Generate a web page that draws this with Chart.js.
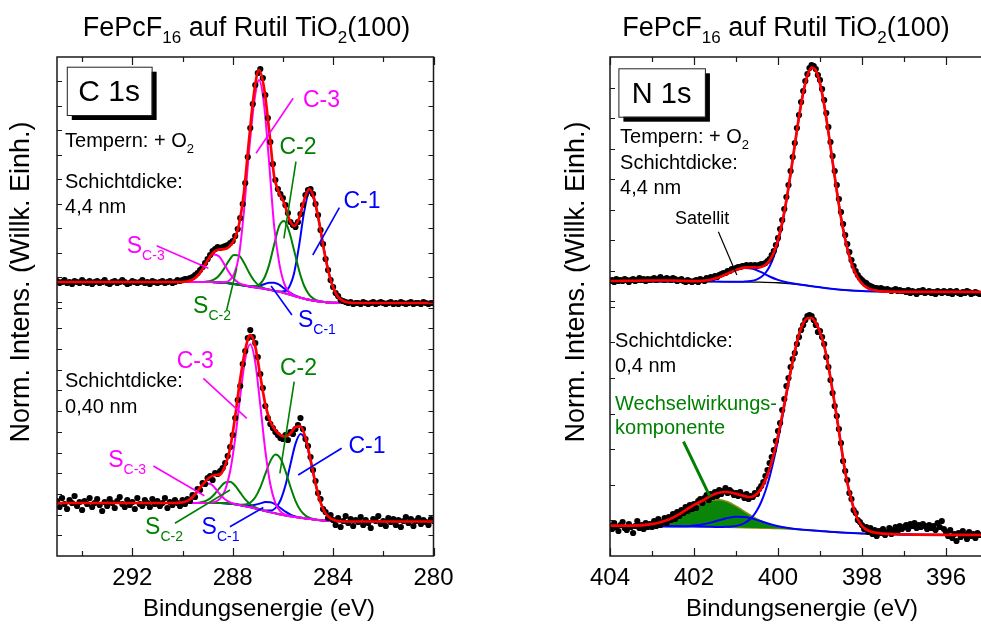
<!DOCTYPE html>
<html>
<head>
<meta charset="utf-8">
<script src="https://cdn.jsdelivr.net/npm/chart.js@4.4.1/dist/chart.umd.min.js"></script>
<style>
  html, body { margin: 0; padding: 0; background: #fff; overflow: hidden; width: 981px; height: 626px; }
  canvas { position: absolute; left: 0; top: 0; }
</style>
</head>
<body>
<canvas id="c1s" width="1000" height="626"></canvas>
<canvas id="n1s" width="1000" height="626"></canvas>
<script>
// ---------- C 1s: measured points (binding energy / eV, normalised intensity) ----------
const c1sEnergy = [
  295.0,294.9,294.8,294.7,294.6,294.5,294.4,294.3,294.2,294.1,
  294.0,293.9,293.8,293.7,293.6,293.5,293.4,293.3,293.2,293.1,
  293.0,292.9,292.8,292.7,292.6,292.5,292.4,292.3,292.2,292.1,
  292.0,291.9,291.8,291.7,291.6,291.5,291.4,291.3,291.2,291.1,
  291.0,290.9,290.8,290.7,290.6,290.5,290.4,290.3,290.2,290.1,
  290.0,289.9,289.8,289.7,289.6,289.5,289.4,289.3,289.2,289.1,
  289.0,288.9,288.8,288.7,288.6,288.5,288.4,288.3,288.2,288.1,
  288.0,287.9,287.8,287.7,287.6,287.5,287.4,287.3,287.2,287.1,
  287.0,286.9,286.8,286.7,286.6,286.5,286.4,286.3,286.2,286.1,
  286.0,285.9,285.8,285.7,285.6,285.5,285.4,285.3,285.2,285.1,
  285.0,284.9,284.8,284.7,284.6,284.5,284.4,284.3,284.2,284.1,
  284.0,283.9,283.8,283.7,283.6,283.5,283.4,283.3,283.2,283.1,
  283.0,282.9,282.8,282.7,282.6,282.5,282.4,282.3,282.2,282.1,
  282.0,281.9,281.8,281.7,281.6,281.5,281.4,281.3,281.2,281.1,
  281.0,280.9,280.8,280.7,280.6,280.5,280.4,280.3,280.2,280.1,
  280.0
];
// film thickness 4,4 nm (annealed in O2)
const c1sThick = [
  275,273,274,276,273,274,272,275,274,273,
  276,274,273,275,272,274,275,273,274,276,
  273,272,274,275,273,274,276,274,272,273,
  275,274,273,274,276,273,274,272,275,274,
  273,274,275,273,274,275,273,274,276,275,
  276,277,277,278,279,281,283,286,289,293,
  297,301,305,307,309,308,309,310,311,313,
  315,320,327,338,352,373,399,428,452,471,
  483,487,478,461,438,414,392,376,367,362,
  358,351,343,334,331,329,334,342,351,361,
  366,367,362,352,341,326,312,297,286,276,
  269,263,260,256,255,254,253,254,252,253,
  253,252,254,253,252,253,254,252,253,254,
  253,252,253,254,252,253,252,254,253,252,
  253,254,252,253,253,252,254,253,252,253,
  253
];
// film thickness 0,40 nm
const c1sThin = [
  55,49,58,52,47,56,53,60,50,54,
  46,55,52,58,49,53,57,51,45,54,
  50,57,53,48,55,59,52,49,56,51,
  54,47,58,52,50,56,53,49,57,52,
  55,50,53,58,48,54,51,56,53,50,
  56,52,57,55,61,59,67,66,73,72,
  78,80,76,83,82,85,88,93,100,109,
  121,138,156,170,192,205,218,226,219,213,
  199,182,168,150,138,132,128,124,121,118,
  117,121,116,124,122,127,131,138,127,117,
  110,99,86,75,63,57,47,44,38,41,
  36,31,38,29,35,40,33,37,30,36,
  34,39,31,36,33,28,37,35,40,32,
  35,30,38,34,37,31,36,29,35,39,
  33,37,30,35,38,32,36,34,31,37,
  35
];

// ---------- C 1s fit, 4,4 nm ----------
const c1sFitEThick = [295,290.55,290.35,290.15,289.95,289.75,289.55,289.35,289.15,288.95,288.75,288.55,288.35,288.15,287.95,287.75,287.55,287.35,287.15,286.95,286.75,286.55,286.35,286.15,285.95,285.75,285.55,285.35,285.15,284.95,284.75,284.55,284.35,284.15,283.95,283.75,283.55,283.35,283.15,282.95,280];
const c1sBgThick  = [274,274,274,274,274,274,274,274,274,274,273.8,273.6,273.2,272.7,272,271.3,270.5,269.6,268.8,268,267.2,266.3,265.3,264.3,263,261.5,260,258.6,257.3,256.2,255.3,254.5,253.9,253.5,253.2,253,253,253,253,253,253];
const c1sSC3Thick = [274,274,274,274,274.2,275,277.1,281.6,289,297.1,301.6,299.7,292.4,283.8,277,273,271,269.7,268.8,268,267.2,266.3,265.3,264.3,263,261.5,260,258.6,257.3,256.2,255.3,254.5,253.9,253.5,253.2,253,253,253,253,253,253];
const c1sSC2Thick = [274,274,274,274,274,274,274,274,274.1,274.7,276.3,280.3,287.1,295.4,301.1,300.4,293.2,283.5,275.5,270.5,267.9,266.5,265.3,264.3,263,261.5,260,258.6,257.3,256.2,255.3,254.5,253.9,253.5,253.2,253,253,253,253,253,253];
const c1sC3Thick  = [274,274,274,274,274,274,274,274,274,274,273.8,273.7,273.7,275.2,281.6,300.4,345,404,452.7,476,451.1,393.6,330,293.4,272.6,264,260.5,258.7,257.3,256.2,255.3,254.5,253.9,253.5,253.2,253,253,253,253,253,253];
const c1sSC1Thick = [274,274,274,274,274,274,274,274,274,274,273.8,273.6,273.2,272.7,272,271.3,270.5,269.9,269.7,270.3,271.8,273.3,273.3,271.3,267.6,263.8,260.9,258.9,257.3,256.2,255.3,254.5,253.9,253.5,253.2,253,253,253,253,253,253];
const c1sC2Thick  = [274,274,274,274,274,274,274,274,274,274,273.8,273.6,273.2,272.7,272,271.3,270.5,269.7,269.6,271.3,277.5,291.1,311.3,329.8,334.9,324.5,305.2,285.1,270,261.2,256.9,254.9,253.9,253.5,253.2,253,253,253,253,253,253];
const c1sC1Thick  = [274,274,274,274,274,274,274,274,274,274,273.8,273.6,273.2,272.7,272,271.3,270.5,269.6,268.8,268,267.2,266.3,265.3,264.6,264.8,269.1,283.3,311.2,344.6,362.9,355.4,332.7,304.7,281,265.6,257.6,254.5,253.4,253,253,253];
const c1sSumThick = [274,274,274,274,274.2,275,277.1,281.6,289.1,297.8,304.1,306.5,306.8,309,315.7,331.3,364,416,463,486,468,426,380,363,353,337,330,338,356,367,357,333,304,281,265.6,257.6,254.5,253.4,253,253,253];

// ---------- C 1s fit, 0,40 nm ----------
const c1sFitEThin = [295,290.9,290.7,290.5,290.3,290.1,289.9,289.7,289.5,289.3,289.1,288.9,288.7,288.5,288.3,288.1,287.9,287.7,287.5,287.3,287.1,286.9,286.7,286.5,286.3,286.1,285.9,285.7,285.5,285.3,285.1,284.9,284.7,284.5,284.3,284.1,283.9,283.7,283.5,283.3,283.1,280];
const c1sBgThin  = [53,53,53,53,53,53,53,53,53,53,53,53,53,53,52.8,52.4,51.7,50.8,49.8,48.8,47.5,46.2,45,43.8,42.7,41.6,40.6,39.7,38.9,38.2,37.5,36.9,36.3,35.8,35.4,35.1,34.9,34.7,34.5,34.5,34.5,34.5];
const c1sSC3Thin = [53,53,53,53,53,53.3,54.3,56.7,61.5,67.7,72.3,72.3,67.7,61.5,56.5,53.7,52,50.8,49.8,48.8,47.5,46.2,45,43.8,42.7,41.6,40.6,39.7,38.9,38.2,37.5,36.9,36.3,35.8,35.4,35.1,34.9,34.7,34.5,34.5,34.5,34.5];
const c1sSC2Thin = [53,53,53,53,53,53,53,53,53,53.6,54.8,57.6,62.5,68.7,73.5,74.2,70.2,63.3,56.6,51.8,48.5,46.5,45,43.8,42.7,41.6,40.6,39.7,38.9,38.2,37.5,36.9,36.3,35.8,35.4,35.1,34.9,34.7,34.5,34.5,34.5,34.5];
const c1sC3Thin  = [53,53,53,53,53,53,53,53,53,53,53,53.3,54.2,57.4,66,85,117.6,159.8,197.2,211.8,193.4,150.8,105.1,71.5,52.9,44.6,41.3,39.7,38.9,38.2,37.5,36.9,36.3,35.8,35.4,35.1,34.9,34.7,34.5,34.5,34.5,34.5];
const c1sSC1Thin = [53,53,53,53,53,53,53,53,53,53,53,53,53,53,52.8,52.4,51.7,51,50.4,50.5,51.2,52.6,54,53.8,51.7,48,44.3,41.4,39.5,38.4,37.5,36.9,36.3,35.8,35.4,35.1,34.9,34.7,34.5,34.5,34.5,34.5];
const c1sC2Thin  = [53,53,53,53,53,53,53,53,53,53,53,53,53,53,52.8,52.4,51.8,51.3,51.4,53.5,58.8,68.6,82.1,94.9,101.4,97.6,85.2,69.2,55.2,45.7,40.4,37.8,36.5,35.8,35.4,35.1,34.9,34.7,34.5,34.5,34.5,34.5];
const c1sC1Thin  = [53,53,53,53,53,53,53,53,53,53,53,53,53,53,52.8,52.4,51.7,50.8,49.8,48.8,47.5,46.2,45.4,45.4,47.9,55.5,70.4,91.5,112.1,122,115.4,95.6,72.3,53.6,42.6,37.5,35.5,34.7,34.5,34.5,34.5,34.5];
const c1sSumThin = [53,53,53,53,53,53.3,54.3,56.7,61.6,68.3,74.1,79,81,81.6,90.4,108.1,140,177,206.2,221.2,209.4,179.9,151.6,134.2,125.8,120.9,119.4,122.7,129,129.7,118.3,96.5,72.5,53.6,42.6,37.5,35.5,34.7,34.5,34.5,34.5,34.5];

// ---------- N 1s: measured points ----------
const n1sEnergy = [
  404.00,403.95,403.90,403.85,403.80,403.75,403.70,403.65,403.60,403.55,403.50,403.45,403.40,403.35,403.30,403.25,403.20,403.15,403.10,403.05,
  403.00,402.95,402.90,402.85,402.80,402.75,402.70,402.65,402.60,402.55,402.50,402.45,402.40,402.35,402.30,402.25,402.20,402.15,402.10,402.05,
  402.00,401.95,401.90,401.85,401.80,401.75,401.70,401.65,401.60,401.55,401.50,401.45,401.40,401.35,401.30,401.25,401.20,401.15,401.10,401.05,
  401.00,400.95,400.90,400.85,400.80,400.75,400.70,400.65,400.60,400.55,400.50,400.45,400.40,400.35,400.30,400.25,400.20,400.15,400.10,400.05,
  400.00,399.95,399.90,399.85,399.80,399.75,399.70,399.65,399.60,399.55,399.50,399.45,399.40,399.35,399.30,399.25,399.20,399.15,399.10,399.05,
  399.00,398.95,398.90,398.85,398.80,398.75,398.70,398.65,398.60,398.55,398.50,398.45,398.40,398.35,398.30,398.25,398.20,398.15,398.10,398.05,
  398.00,397.95,397.90,397.85,397.80,397.75,397.70,397.65,397.60,397.55,397.50,397.45,397.40,397.35,397.30,397.25,397.20,397.15,397.10,397.05,
  397.00,396.95,396.90,396.85,396.80,396.75,396.70,396.65,396.60,396.55,396.50,396.45,396.40,396.35,396.30,396.25,396.20,396.15,396.10,396.05,
  396.00,395.95,395.90,395.85,395.80,395.75,395.70,395.65,395.60,395.55,395.50,395.45,395.40,395.35,395.30,395.25,395.20
];
// film thickness 4,4 nm (annealed in O2)
const n1sThick = [
  275,276,274,277,275,276,275,277,276,274,276,277,275,276,278,276,277,275,277,276,
  277,278,276,277,279,277,276,278,277,276,278,277,275,276,277,275,274,276,275,274,
  275,276,274,277,276,275,278,277,279,278,280,279,281,282,283,283,285,285,287,287,
  288,289,289,290,290,291,290,291,290,291,290,291,292,292,293,295,297,301,305,311,
  318,327,336,347,359,371,385,399,413,428,441,454,465,475,482,488,491,490,487,481,
  476,467,456,443,429,414,400,385,371,357,344,332,321,312,304,296,290,285,281,278,
  276,274,273,271,270,269,268,268,267,268,267,266,267,266,265,266,267,265,266,265,
  265,264,266,263,265,264,262,265,264,266,263,264,265,263,264,262,265,264,263,265,
  264,263,265,262,264,265,263,262,264,263,265,264,262,263,264,263,262
];
// film thickness 0,4 nm
const n1sThin = [
  30,27,33,29,25,31,34,28,26,32,29,23,30,35,28,31,27,33,29,32,
  29,35,30,37,31,34,38,33,39,36,42,37,44,40,46,43,49,45,51,47,
  52,48,55,57,53,58,61,56,62,59,64,60,66,62,65,68,63,66,64,61,
  63,60,64,61,58,62,57,60,59,63,62,67,70,74,80,86,93,99,106,115,
  125,133,146,157,170,178,189,197,203,212,219,226,231,236,240,241,240,236,231,224,
  225,219,212,199,189,176,163,150,140,127,113,95,85,76,63,57,46,43,36,34,
  31,27,29,24,28,22,26,20,25,23,27,21,24,28,22,26,29,25,30,27,
  29,31,27,32,30,33,28,31,29,32,30,27,31,28,30,26,33,29,35,27,
  24,20,26,18,22,15,23,19,25,21,17,24,20,22,18,23,21
];

// ---------- N 1s fit, 4,4 nm ----------
const n1sBgEThick = [404,401.5,401,400.5,400,399.5,399,398.5,398,397.5,395];
const n1sBgThick  = [274.5,274.4,274.2,273.9,273.2,271.5,268.7,266.3,264.9,264.4,264];
const n1sMainEThick = [404,402,401.5,401.0,400.9,400.8,400.7,400.6,400.5,400.4,400.3,400.2,400.1,400.0,399.9,399.8,399.7,399.6,399.5,399.4,399.3,399.2,399.1,399.0,398.9,398.8,398.7,398.6,398.5,398.4,398.3,398.2,398.1,398.0,397.9,397.8,397.7,397.6,397.5,397.4,396,395];
const n1sMainThick  = [274.5,274.5,274.4,274.2,274.2,274.4,274.7,275.4,276.7,279,283,289.5,299.3,313.2,331.7,354.9,381.7,410.7,438.9,463.1,480.3,488.4,485.6,472.6,451.1,423.9,394.2,365,338.6,316.7,299.5,286.9,278.1,272.4,268.9,266.8,265.7,265,264.6,264.4,264.1,264];
const n1sSatEThick = [404,402,401.8,401.6,401.4,401.2,401.0,400.8,400.6,400.4,400.2,400.0,399.8,399.6,399.4,399.2,399.0,398.5,398.0,397.5,396.5,395];
const n1sSatThick  = [274.5,274.7,275.2,276.3,278.7,282.3,286,288,287.2,283.8,279.5,276.1,273.7,272.3,271,269.8,268.7,266.3,264.9,264.4,264.1,264];
const n1sSumEThick = [404,403,402.5,402,401.8,401.6,401.4,401.2,401.0,400.9,400.8,400.7,400.6,400.5,400.4,400.3,400.2,400.1,400.0,399.9,399.8,399.7,399.6,399.5,399.4,399.3,399.2,399.1,399.0,398.9,398.8,398.7,398.6,398.5,398.4,398.3,398.2,398.1,398.0,397.9,397.8,397.7,397.6,397.5,397.4,396,395];
const n1sSumThick  = [275,275.5,275.5,274.8,275.2,276.3,278.7,282.3,286,287.4,288.3,288.6,288.6,288.5,289,291,295.5,303.6,316.1,333.6,356,382.4,411.1,439.1,463.2,480.4,488.5,485.6,472.6,451.1,423.9,394.2,365,338.6,316.7,299.5,286.9,278.1,272.4,268.9,266.8,265.7,265,264.6,264.4,264.1,264];

// ---------- N 1s fit, 0,4 nm ----------
const n1sBgEThin = [404,403.5,403.2,403.0,402.8,402.6,402.4,402.2,402.0,401.8,401.6,401.4,401.2,401.0,400.8,400.6,400.4,400.2,400.0,399.8,399.6,399.4,399.0,398.5,398.0,397.0,395.0];
const n1sBgThin  = [30,29.9,29.8,29.75,29.7,29.65,29.6,29.55,29.5,29.3,29.1,28.9,28.7,28.5,28.3,28.1,27.9,27.7,27.5,27.1,26.7,26.2,25,23.5,22.5,21.5,21];
const n1sWwThin  = [30,29.9,30.3,31.8,33.8,36.5,40.5,45.5,50,53.5,55.9,56.3,54.2,49.9,44.6,39.4,35,31.7,29.6,28.1,27.1,26.3,25,23.5,22.5,21.5,21];
const n1sSatEThin = [404,402.5,402.2,402.0,401.8,401.6,401.4,401.2,401.0,400.8,400.6,400.4,400.2,400.0,399.8,399.6,399.4,399.0,398.5,398.0,397.0,395.0];
const n1sSatThin  = [30,29.7,29.8,30.6,31.6,33.4,35.7,38,39.3,39.1,37.4,34.7,32,29.8,28.2,27.1,26.3,25,23.5,22.5,21.5,21];
const n1sMainEThin = [404,402,401.5,401.4,401.3,401.2,401.1,401.0,400.9,400.8,400.7,400.6,400.5,400.4,400.3,400.2,400.1,400.0,399.9,399.8,399.7,399.6,399.5,399.4,399.3,399.2,399.1,399.0,398.9,398.8,398.7,398.6,398.5,398.4,398.3,398.2,398.1,398.0,397.9,397.8,397.7,397.6,397.5,397,395];
const n1sMainThin  = [30,29.5,29.1,29,29.1,29.2,29.5,30.1,31.1,32.9,35.6,39.7,45.7,54,65,79,96.1,115.9,137.8,160.8,183.4,204,220.9,232.5,237.6,238,233,224,210,190,165,139,111,84,64,48,36.5,30,26.5,24.6,23.5,22.8,22.4,21.5,21];
const n1sSumEThin = [404,403.5,403.0,402.8,402.6,402.4,402.2,402.0,401.8,401.6,401.5,401.4,401.3,401.2,401.1,401.0,400.9,400.8,400.7,400.6,400.5,400.4,400.3,400.2,400.1,400.0,399.9,399.8,399.7,399.6,399.5,399.4,399.3,399.2,399.1,399.0,398.9,398.8,398.7,398.6,398.5,398.4,398.3,398.2,398.1,398.0,397.9,397.8,397.7,397.6,397.5,397,395];
const n1sSumThin  = [30.3,30.3,31.8,33.8,36.5,40.6,45.9,51.1,55.2,60.2,62,63.2,64,64,63.3,62.3,61,60,59,59.6,62.3,67.5,75.9,87.3,102.2,120.3,140.8,162.9,184.8,204.8,221.3,232.7,237.7,238,233,224,210,190,165,139,111,84,64,48,36.5,30,26.5,24.6,23.5,22.8,22.4,21.5,21];

// ---------- drawing helpers ----------
const FONT = "'Liberation Sans', Arial, Helvetica, sans-serif";
const MAGENTA = '#ff00ff', GREEN = '#008000', BLUE = '#0000ff', RED = '#ff0000';
const pts = (xs, ys) => xs.map((x, i) => ({ x, y: ys[i] }));

function curve(xs, ys, color, width, order, extra) {
  return Object.assign({
    data: pts(xs, ys), borderColor: color, borderWidth: width, pointRadius: 0,
    fill: false, cubicInterpolationMode: 'monotone', order
  }, extra || {});
}
function dots(xs, ys, order) {
  return {
    data: pts(xs, ys), showLine: false, pointRadius: 3.1, pointHoverRadius: 0,
    pointBackgroundColor: '#000', pointBorderWidth: 0, borderColor: '#000', order
  };
}

// draws a run of text pieces: [text, size, dy]
function rich(ctx, x, y, parts, color, align) {
  ctx.fillStyle = color;
  ctx.textAlign = 'left';
  ctx.textBaseline = 'alphabetic';
  let total = 0;
  for (const p of parts) { ctx.font = p[1] + 'px ' + FONT; total += ctx.measureText(p[0]).width; }
  let cx = align === 'center' ? x - total / 2 : x;
  for (const p of parts) {
    ctx.font = p[1] + 'px ' + FONT;
    ctx.fillText(p[0], cx, y + (p[2] || 0));
    cx += ctx.measureText(p[0]).width;
  }
}

// frame with inward tick marks
const framePlugin = {
  id: 'frame',
  afterDatasetsDraw(chart, _args, o) {
    const { ctx, chartArea: a, scales: { x } } = chart;
    ctx.save();
    ctx.strokeStyle = '#1a1a1a';
    ctx.lineWidth = 1.5;
    ctx.strokeRect(a.left, a.top, a.right - a.left, a.bottom - a.top);
    ctx.lineWidth = 1.2;
    ctx.beginPath();
    for (const t of x.ticks) {
      const px = Math.round(x.getPixelForValue(t.value)) + 0.5;
      const len = t.label ? 8 : 5;
      ctx.moveTo(px, a.bottom); ctx.lineTo(px, a.bottom - len);
      ctx.moveTo(px, a.top); ctx.lineTo(px, a.top + len);
    }
    for (const b of o.yBands) {
      for (let k = 1; k <= b.count; k++) {
        const py = Math.round(b.fromTop ? a.top + k * b.step : a.bottom - k * b.step) + 0.5;
        ctx.moveTo(a.left, py); ctx.lineTo(a.left + 5, py);
        ctx.moveTo(a.right, py); ctx.lineTo(a.right - 5, py);
      }
    }
    ctx.stroke();
    ctx.restore();
  }
};

// labels, leader lines, boxes and titles
const notesPlugin = {
  id: 'notes',
  afterDraw(chart, _args, o) {
    const { ctx, scales: { x, y } } = chart;
    const X = v => x.getPixelForValue(v), Y = v => y.getPixelForValue(v);
    ctx.save();
    for (const n of o.items) {
      if (n.kind === 'line') {
        ctx.strokeStyle = n.color; ctx.lineWidth = n.width || 1.6;
        ctx.beginPath(); ctx.moveTo(X(n.x1), Y(n.y1)); ctx.lineTo(X(n.x2), Y(n.y2)); ctx.stroke();
      } else if (n.kind === 'box') {
        const x1 = X(n.x1), x2 = X(n.x2), y1 = Y(n.y1), y2 = Y(n.y2);
        ctx.fillStyle = '#000'; ctx.fillRect(x1 + 5, y1 + 5, x2 - x1, y2 - y1);
        ctx.fillStyle = '#fff'; ctx.fillRect(x1, y1, x2 - x1, y2 - y1);
        ctx.strokeStyle = '#222'; ctx.lineWidth = 1; ctx.strokeRect(x1 + 0.5, y1 + 0.5, x2 - x1, y2 - y1);
        ctx.fillStyle = '#000'; ctx.font = n.size + 'px ' + FONT;
        ctx.textAlign = 'center'; ctx.textBaseline = 'middle';
        ctx.fillText(n.text, (x1 + x2) / 2, (y1 + y2) / 2 + 2);
      } else if (n.kind === 'text') {
        rich(ctx, X(n.x), Y(n.y), n.parts, n.color || '#000', 'left');
      }
    }
    for (const p of o.page) {
      if (p.vertical) {
        ctx.save();
        ctx.translate(p.x, p.y); ctx.rotate(-Math.PI / 2);
        ctx.fillStyle = '#000'; ctx.font = p.size + 'px ' + FONT;
        ctx.textAlign = 'center'; ctx.textBaseline = 'middle';
        ctx.fillText(p.text, 0, 0);
        ctx.restore();
      } else {
        rich(ctx, p.x, p.y, p.parts, '#000', 'center');
      }
    }
    ctx.restore();
  }
};

function baseOptions(xMin, xMax, step, labelEvery, padL, padR, yBands, items, page) {
  return {
    responsive: false, animation: false, devicePixelRatio: 1,
    layout: { padding: { left: padL, right: padR, top: 57, bottom: 0 } },
    plugins: { legend: { display: false }, tooltip: { enabled: false },
               frame: { yBands }, notes: { items, page } },
    scales: {
      x: {
        type: 'linear', min: xMin, max: xMax, reverse: true,
        grid: { display: false, drawTicks: false }, border: { display: false },
        ticks: {
          stepSize: step, includeBounds: false, autoSkip: false, maxRotation: 0,
          padding: 8, color: '#000', font: { family: FONT, size: 24 },
          callback: v => (Math.round(v) % labelEvery === 0 ? String(Math.round(v)) : '')
        },
        afterFit: s => { s.height = 70; s.paddingLeft = 0; s.paddingRight = 0; }
      },
      y: { type: 'linear', min: 0, max: 499, display: false }
    }
  };
}

const S = (main, sub) => [[main, 23], [sub, 14, 7]];

// ---------- C 1s panel ----------
const c1sItems = [
  { kind: 'box', x1: 294.61, x2: 291.23, y1: 489.3, y2: 441, text: 'C 1s', size: 30 },
  { kind: 'text', x: 294.68, y: 409, parts: [['Tempern: + O', 20], ['2', 13, 6]] },
  { kind: 'text', x: 294.68, y: 367.7, parts: [['Schichtdicke:', 20]] },
  { kind: 'text', x: 294.68, y: 342.7, parts: [['4,4 nm', 20]] },
  { kind: 'text', x: 294.68, y: 168.7, parts: [['Schichtdicke:', 20]] },
  { kind: 'text', x: 294.68, y: 142.7, parts: [['0,40 nm', 20]] },
  // 4,4 nm labels
  { kind: 'text', x: 285.2, y: 449.3, color: MAGENTA, parts: [['C-3', 23]] },
  { kind: 'line', x1: 285.59, y1: 457.7, x2: 287.07, y2: 402.7, color: MAGENTA },
  { kind: 'text', x: 286.14, y: 401.7, color: GREEN, parts: [['C-2', 23]] },
  { kind: 'line', x1: 285.48, y1: 394.3, x2: 285.96, y2: 317.7, color: GREEN },
  { kind: 'text', x: 283.59, y: 347.7, color: BLUE, parts: [['C-1', 23]] },
  { kind: 'line', x1: 283.75, y1: 348.3, x2: 284.81, y2: 301, color: BLUE },
  { kind: 'text', x: 292.22, y: 302.7, color: MAGENTA, parts: S('S', 'C-3') },
  { kind: 'line', x1: 291.03, y1: 310.3, x2: 288.97, y2: 287.7, color: MAGENTA },
  { kind: 'text', x: 289.58, y: 243, color: GREEN, parts: S('S', 'C-2') },
  { kind: 'line', x1: 288.24, y1: 246, x2: 287.84, y2: 287.7, color: GREEN },
  { kind: 'text', x: 285.4, y: 229, color: BLUE, parts: S('S', 'C-1') },
  { kind: 'line', x1: 286.47, y1: 270, x2: 285.64, y2: 241, color: BLUE },
  // 0,40 nm labels
  { kind: 'text', x: 290.23, y: 187.7, color: MAGENTA, parts: [['C-3', 23]] },
  { kind: 'line', x1: 289.17, y1: 177.7, x2: 287.44, y2: 137.7, color: MAGENTA },
  { kind: 'text', x: 286.12, y: 181, color: GREEN, parts: [['C-2', 23]] },
  { kind: 'line', x1: 285.55, y1: 174.3, x2: 286.12, y2: 82.7, color: GREEN },
  { kind: 'text', x: 283.39, y: 102.7, color: BLUE, parts: [['C-1', 23]] },
  { kind: 'line', x1: 283.66, y1: 107.7, x2: 285.39, y2: 81, color: BLUE },
  { kind: 'text', x: 292.96, y: 89, color: MAGENTA, parts: S('S', 'C-3') },
  { kind: 'line', x1: 291.16, y1: 90, x2: 289.13, y2: 60.3, color: MAGENTA },
  { kind: 'text', x: 291.49, y: 22, color: GREEN, parts: S('S', 'C-2') },
  { kind: 'line', x1: 290.3, y1: 32.7, x2: 288.11, y2: 66, color: GREEN },
  { kind: 'text', x: 289.24, y: 22, color: BLUE, parts: S('S', 'C-1') },
  { kind: 'line', x1: 288.11, y1: 29.3, x2: 286.78, y2: 48.5, color: BLUE }
];
const titleParts = [['FePcF', 27], ['16', 17, 7], [' auf Rutil TiO', 27], ['2', 17, 7], ['(100)', 27]];
const c1sPage = [
  { x: 246.5, y: 36, parts: titleParts },
  { x: 259, y: 616, parts: [['Bindungsenergie (eV)', 24]] },
  { vertical: true, x: 22, y: 282, size: 27, text: 'Norm. Intens. (Willk. Einh.)' }
];

new Chart(document.getElementById('c1s'), {
  type: 'line',
  data: { datasets: [
    curve(c1sFitEThick, c1sSumThick, RED, 2.7, 0),
    dots(c1sEnergy, c1sThick, 1),
    curve(c1sFitEThick, c1sC3Thick, MAGENTA, 2, 2),
    curve(c1sFitEThick, c1sSC3Thick, MAGENTA, 2, 3),
    curve(c1sFitEThick, c1sC2Thick, GREEN, 2, 4),
    curve(c1sFitEThick, c1sSC2Thick, GREEN, 2, 5),
    curve(c1sFitEThick, c1sC1Thick, BLUE, 2, 6),
    curve(c1sFitEThick, c1sSC1Thick, BLUE, 2, 7),
    curve(c1sFitEThick, c1sBgThick, '#2b2b8c', 1.6, 8),
    curve(c1sFitEThin, c1sSumThin, RED, 2.7, 0),
    dots(c1sEnergy, c1sThin, 1),
    curve(c1sFitEThin, c1sC3Thin, MAGENTA, 2, 2),
    curve(c1sFitEThin, c1sSC3Thin, MAGENTA, 2, 3),
    curve(c1sFitEThin, c1sC2Thin, GREEN, 2, 4),
    curve(c1sFitEThin, c1sSC2Thin, GREEN, 2, 5),
    curve(c1sFitEThin, c1sC1Thin, BLUE, 2, 6),
    curve(c1sFitEThin, c1sSC1Thin, BLUE, 2, 7),
    curve(c1sFitEThin, c1sBgThin, '#2b2b8c', 1.6, 8)
  ] },
  options: baseOptions(280, 295, 2, 4, 57, 566.5,
    [{ fromTop: true, step: 24.45, count: 10 }, { fromTop: false, step: 20.7, count: 12 }],
    c1sItems, c1sPage),
  plugins: [framePlugin, notesPlugin]
});

// ---------- N 1s panel ----------
const n1sItems = [
  { kind: 'box', x1: 403.8, x2: 401.74, y1: 487.7, y2: 439.3, text: 'N 1s', size: 29 },
  { kind: 'text', x: 403.76, y: 412.7, parts: [['Tempern: + O', 20], ['2', 13, 6]] },
  { kind: 'text', x: 403.76, y: 387, parts: [['Schichtdicke:', 20]] },
  { kind: 'text', x: 403.76, y: 361.7, parts: [['4,4 nm', 20]] },
  { kind: 'text', x: 402.45, y: 331.7, parts: [['Satellit', 18]] },
  { kind: 'line', x1: 401.42, y1: 324.3, x2: 400.98, y2: 281, color: '#000', width: 1.2 },
  { kind: 'text', x: 403.88, y: 208.7, parts: [['Schichtdicke:', 20]] },
  { kind: 'text', x: 403.88, y: 184.3, parts: [['0,4 nm', 20]] },
  { kind: 'text', x: 403.88, y: 146, color: GREEN, parts: [['Wechselwirkungs-', 20]] },
  { kind: 'text', x: 403.88, y: 122, color: GREEN, parts: [['komponente', 20]] },
  { kind: 'line', x1: 402.25, y1: 114.3, x2: 401.62, y2: 59.3, color: GREEN, width: 3 }
];
const n1sPage = [
  { x: 786, y: 36, parts: titleParts },
  { x: 802, y: 616, parts: [['Bindungsenergie (eV)', 24]] },
  { vertical: true, x: 577, y: 282, size: 27, text: 'Norm. Intens. (Willk. Einh.)' }
];

new Chart(document.getElementById('n1s'), {
  type: 'line',
  data: { datasets: [
    curve(n1sSumEThick, n1sSumThick, RED, 2.7, 0),
    dots(n1sEnergy, n1sThick, 1),
    curve(n1sMainEThick, n1sMainThick, BLUE, 2, 2),
    curve(n1sSatEThick, n1sSatThick, BLUE, 2, 3),
    curve(n1sBgEThick, n1sBgThick, '#000', 1.4, 4),
    curve(n1sSumEThin, n1sSumThin, RED, 2.7, 0),
    dots(n1sEnergy, n1sThin, 1),
    curve(n1sMainEThin, n1sMainThin, BLUE, 2, 2),
    curve(n1sSatEThin, n1sSatThin, BLUE, 2, 3),
    curve(n1sBgEThin, n1sWwThin, '#8c8c10', 1.6, 4, { fill: 10, backgroundColor: '#0a850a' }),
    curve(n1sBgEThin, n1sBgThin, '#8c8c10', 1.6, 5)
  ] },
  options: baseOptions(395, 404, 1, 2, 610, 12,
    [{ fromTop: true, step: 30.5, count: 8 }, { fromTop: false, step: 35.6, count: 7 }],
    n1sItems, n1sPage),
  plugins: [framePlugin, notesPlugin]
});
</script>
</body>
</html>
